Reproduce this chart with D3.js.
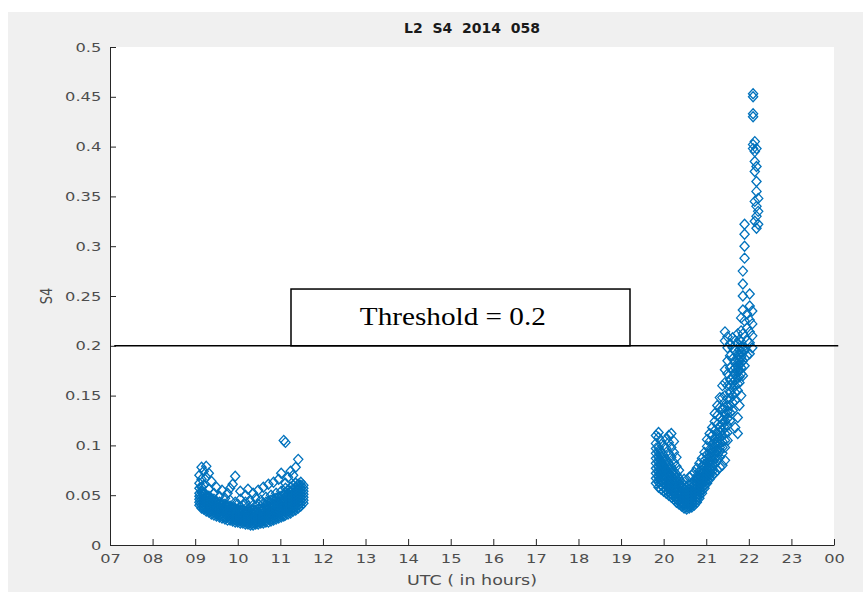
<!DOCTYPE html>
<html>
<head>
<meta charset="utf-8">
<script src="https://cdn.jsdelivr.net/npm/d3@7"></script>
<style>
  html, body { margin: 0; padding: 0; background: #fff; }
  svg { display: block; }
</style>
</head>
<body>
<svg id="chart" width="863" height="594"></svg>
<script>
// L2 S4, 2014 day 058 - scatter of S4 against UTC hour
const chartTitle = 'L2  S4  2014  058';
const hourTicks = [7, 8, 9, 10, 11, 12, 13, 14, 15, 16, 17, 18, 19, 20, 21, 22, 23, 24];
const hourLabels = ['07', '08', '09', '10', '11', '12', '13', '14', '15', '16', '17', '18', '19', '20', '21', '22', '23', '00'];
const s4Ticks = [0, 0.05, 0.1, 0.15, 0.2, 0.25, 0.3, 0.35, 0.4, 0.45, 0.5];
const s4Labels = ['0', '0.05', '0.1', '0.15', '0.2', '0.25', '0.3', '0.35', '0.4', '0.45', '0.5'];
const threshold = 0.2;
const thresholdText = 'Threshold = 0.2';

// morning pass: [UTC hour, S4 samples near that hour]
const morningPass = [
  [9.10, [0.040, 0.043, 0.046, 0.049, 0.052, 0.057, 0.062, 0.070]],
  [9.15, [0.037, 0.040, 0.043, 0.046, 0.049, 0.053, 0.058, 0.066, 0.078]],
  [9.20, [0.036, 0.038, 0.041, 0.044, 0.047, 0.050, 0.053, 0.060, 0.074]],
  [9.26, [0.034, 0.037, 0.039, 0.042, 0.045, 0.048, 0.050, 0.068, 0.079]],
  [9.32, [0.033, 0.035, 0.038, 0.041, 0.044, 0.047, 0.049, 0.056, 0.072]],
  [9.38, [0.031, 0.034, 0.036, 0.039, 0.042, 0.045, 0.047, 0.064]],
  [9.44, [0.030, 0.033, 0.035, 0.038, 0.040, 0.043, 0.046, 0.052]],
  [9.50, [0.029, 0.031, 0.034, 0.037, 0.039, 0.042, 0.044, 0.058]],
  [9.57, [0.028, 0.030, 0.033, 0.036, 0.038, 0.041, 0.043, 0.049]],
  [9.63, [0.027, 0.029, 0.032, 0.035, 0.037, 0.040, 0.042, 0.055]],
  [9.70, [0.026, 0.028, 0.031, 0.034, 0.036, 0.039, 0.041, 0.047]],
  [9.76, [0.025, 0.028, 0.030, 0.033, 0.035, 0.038, 0.040, 0.052]],
  [9.82, [0.025, 0.027, 0.029, 0.032, 0.034, 0.037, 0.039, 0.045, 0.057]],
  [9.88, [0.024, 0.026, 0.028, 0.031, 0.033, 0.036, 0.038, 0.061]],
  [9.94, [0.023, 0.025, 0.028, 0.030, 0.032, 0.035, 0.037, 0.043, 0.069]],
  [10.00, [0.023, 0.025, 0.027, 0.029, 0.031, 0.034, 0.036, 0.041]],
  [10.06, [0.022, 0.024, 0.026, 0.028, 0.031, 0.033, 0.035, 0.046, 0.054]],
  [10.12, [0.022, 0.024, 0.026, 0.028, 0.030, 0.033, 0.035, 0.040]],
  [10.18, [0.021, 0.023, 0.025, 0.028, 0.030, 0.032, 0.034, 0.043, 0.050]],
  [10.24, [0.021, 0.023, 0.025, 0.027, 0.029, 0.032, 0.034, 0.039, 0.056]],
  [10.30, [0.020, 0.022, 0.025, 0.027, 0.029, 0.031, 0.034, 0.044]],
  [10.36, [0.020, 0.022, 0.025, 0.027, 0.030, 0.032, 0.035, 0.040, 0.052]],
  [10.42, [0.021, 0.023, 0.025, 0.028, 0.030, 0.033, 0.035, 0.047]],
  [10.48, [0.021, 0.023, 0.026, 0.028, 0.030, 0.033, 0.036, 0.041, 0.055]],
  [10.54, [0.022, 0.024, 0.026, 0.029, 0.031, 0.034, 0.036, 0.045]],
  [10.60, [0.022, 0.024, 0.027, 0.029, 0.032, 0.035, 0.037, 0.042, 0.058]],
  [10.66, [0.023, 0.025, 0.027, 0.030, 0.032, 0.035, 0.038, 0.043, 0.048]],
  [10.72, [0.023, 0.026, 0.028, 0.031, 0.033, 0.036, 0.039, 0.044, 0.061]],
  [10.78, [0.024, 0.026, 0.029, 0.032, 0.034, 0.037, 0.040, 0.045, 0.050]],
  [10.84, [0.025, 0.027, 0.030, 0.033, 0.035, 0.038, 0.041, 0.046, 0.063]],
  [10.90, [0.026, 0.028, 0.031, 0.034, 0.036, 0.039, 0.042, 0.047, 0.052]],
  [10.96, [0.027, 0.029, 0.032, 0.035, 0.037, 0.040, 0.043, 0.048, 0.066]],
  [11.02, [0.028, 0.030, 0.033, 0.036, 0.039, 0.042, 0.045, 0.049, 0.054, 0.072]],
  [11.08, [0.029, 0.031, 0.034, 0.037, 0.040, 0.043, 0.046, 0.051, 0.105]],
  [11.12, [0.030, 0.033, 0.036, 0.039, 0.042, 0.045, 0.048, 0.052, 0.057, 0.062, 0.103]],
  [11.18, [0.031, 0.034, 0.037, 0.040, 0.043, 0.046, 0.049, 0.052, 0.055, 0.068]],
  [11.24, [0.032, 0.035, 0.038, 0.041, 0.044, 0.047, 0.050, 0.054, 0.058, 0.074]],
  [11.30, [0.034, 0.037, 0.040, 0.043, 0.046, 0.049, 0.052, 0.056, 0.060, 0.070]],
  [11.36, [0.035, 0.038, 0.041, 0.044, 0.047, 0.050, 0.053, 0.057, 0.062, 0.078]],
  [11.42, [0.037, 0.040, 0.043, 0.046, 0.049, 0.052, 0.055, 0.058, 0.061, 0.086]],
  [11.48, [0.039, 0.042, 0.045, 0.048, 0.051, 0.054, 0.057, 0.060, 0.063]],
  [11.54, [0.042, 0.045, 0.048, 0.051, 0.054, 0.057, 0.060]]
];

// evening pass: dip near 20.5 UTC, then the rise through the threshold
const eveningPass = [
  [19.82, [0.062, 0.067, 0.072, 0.077, 0.082, 0.087, 0.092, 0.097, 0.102, 0.110]],
  [19.88, [0.058, 0.063, 0.068, 0.073, 0.078, 0.083, 0.088, 0.093, 0.098, 0.108, 0.113]],
  [19.94, [0.056, 0.060, 0.064, 0.069, 0.074, 0.079, 0.084, 0.089, 0.094, 0.104]],
  [20.00, [0.054, 0.058, 0.062, 0.066, 0.070, 0.075, 0.080, 0.085, 0.090, 0.100]],
  [20.06, [0.052, 0.055, 0.059, 0.063, 0.067, 0.071, 0.076, 0.081, 0.086, 0.097, 0.106]],
  [20.12, [0.050, 0.053, 0.057, 0.060, 0.064, 0.068, 0.072, 0.077, 0.082, 0.092, 0.103, 0.110]],
  [20.18, [0.048, 0.051, 0.055, 0.058, 0.062, 0.065, 0.069, 0.073, 0.078, 0.088, 0.098, 0.112]],
  [20.24, [0.046, 0.049, 0.052, 0.055, 0.059, 0.062, 0.066, 0.070, 0.074, 0.083, 0.093, 0.104]],
  [20.30, [0.043, 0.046, 0.049, 0.052, 0.056, 0.059, 0.063, 0.067, 0.071, 0.079, 0.088]],
  [20.36, [0.041, 0.044, 0.046, 0.049, 0.052, 0.055, 0.059, 0.063, 0.067, 0.075]],
  [20.42, [0.039, 0.041, 0.044, 0.047, 0.050, 0.053, 0.056, 0.059, 0.063]],
  [20.48, [0.037, 0.040, 0.042, 0.045, 0.047, 0.050, 0.053, 0.056, 0.060, 0.066]],
  [20.54, [0.036, 0.038, 0.041, 0.043, 0.046, 0.049, 0.052, 0.055, 0.058]],
  [20.60, [0.037, 0.039, 0.042, 0.044, 0.047, 0.050, 0.053, 0.056, 0.060, 0.068]],
  [20.66, [0.038, 0.040, 0.043, 0.046, 0.049, 0.052, 0.055, 0.058, 0.062, 0.070]],
  [20.72, [0.040, 0.043, 0.046, 0.049, 0.052, 0.055, 0.058, 0.061, 0.065, 0.073]],
  [20.78, [0.043, 0.046, 0.049, 0.052, 0.055, 0.058, 0.062, 0.065, 0.069, 0.077]],
  [20.84, [0.047, 0.050, 0.053, 0.056, 0.060, 0.063, 0.067, 0.070, 0.074, 0.082]],
  [20.90, [0.052, 0.055, 0.058, 0.061, 0.065, 0.068, 0.072, 0.075, 0.079, 0.087]],
  [20.96, [0.057, 0.060, 0.064, 0.067, 0.071, 0.074, 0.078, 0.081, 0.085, 0.093]],
  [21.02, [0.062, 0.065, 0.069, 0.072, 0.076, 0.080, 0.083, 0.087, 0.091, 0.099, 0.106]],
  [21.08, [0.066, 0.070, 0.073, 0.077, 0.080, 0.084, 0.088, 0.092, 0.096, 0.104, 0.112]],
  [21.14, [0.070, 0.074, 0.077, 0.081, 0.085, 0.089, 0.093, 0.097, 0.101, 0.110, 0.118]],
  [21.20, [0.072, 0.081, 0.086, 0.090, 0.094, 0.098, 0.102, 0.106, 0.115, 0.124, 0.132]],
  [21.26, [0.075, 0.085, 0.090, 0.094, 0.099, 0.103, 0.108, 0.112, 0.121, 0.130, 0.140]],
  [21.32, [0.078, 0.088, 0.094, 0.098, 0.103, 0.108, 0.113, 0.118, 0.128, 0.138, 0.148]],
  [21.38, [0.080, 0.092, 0.098, 0.104, 0.110, 0.115, 0.121, 0.126, 0.137, 0.148, 0.160]],
  [21.44, [0.085, 0.098, 0.105, 0.112, 0.118, 0.125, 0.131, 0.138, 0.150, 0.163, 0.176, 0.205, 0.214]],
  [21.50, [0.105, 0.113, 0.120, 0.127, 0.134, 0.140, 0.147, 0.160, 0.172, 0.185, 0.198, 0.209]],
  [21.56, [0.125, 0.133, 0.140, 0.147, 0.153, 0.160, 0.166, 0.178, 0.190, 0.202]],
  [21.62, [0.135, 0.143, 0.150, 0.157, 0.163, 0.169, 0.175, 0.187, 0.198, 0.208]],
  [21.68, [0.118, 0.145, 0.153, 0.160, 0.166, 0.172, 0.178, 0.184, 0.195, 0.205]],
  [21.74, [0.112, 0.128, 0.155, 0.162, 0.168, 0.174, 0.180, 0.186, 0.191, 0.202, 0.212]],
  [21.78, [0.140, 0.163, 0.169, 0.175, 0.181, 0.186, 0.191, 0.196, 0.206]],
  [21.82, [0.150, 0.172, 0.178, 0.183, 0.189, 0.194, 0.199, 0.204, 0.215, 0.228]],
  [21.86, [0.170, 0.185, 0.198, 0.212, 0.236, 0.250, 0.262, 0.275]],
  [21.90, [0.180, 0.195, 0.225, 0.288, 0.300, 0.312, 0.322]],
  [21.96, [0.190, 0.205, 0.218, 0.232]],
  [22.02, [0.192, 0.203, 0.214, 0.226, 0.240, 0.252]],
  [22.08, [0.198, 0.210, 0.222, 0.235]],
  [22.10, [0.398, 0.402, 0.430, 0.433, 0.450, 0.453]],
  [22.14, [0.325, 0.345, 0.375, 0.385, 0.395, 0.405]],
  [22.18, [0.318, 0.330, 0.340, 0.355, 0.365, 0.380, 0.398]],
  [22.22, [0.322, 0.335, 0.348]]
];

const svg = d3.select('#chart');
const axisColor = '#262626';
const labelColor = '#4d4d4d';
const sans = "'DejaVu Sans', sans-serif";
const stretch = 'scale(1.25,1)'; // the figure text is drawn wide

// figure background (matlab grey) and white axes area
svg.append('rect')
  .attr('x', 8).attr('y', 12)
  .attr('width', 855).attr('height', 580)
  .attr('fill', '#f0f0f0');

const x = d3.scaleLinear().domain([7, 24]).range([110, 834]);
const y = d3.scaleLinear().domain([0, 0.5]).range([545, 47]);

svg.append('rect')
  .attr('x', x(7)).attr('y', y(0.5))
  .attr('width', x(24) - x(7)).attr('height', y(0) - y(0.5))
  .attr('fill', '#fff');

// scatter, open diamonds
const toPoints = pass => pass.flatMap(([h, vals]) => vals.map(v => [h, v]));
const samples = toPoints(morningPass).concat(toPoints(eveningPass));
const diamond = 'M0,-5L4.6,0L0,5L-4.6,0Z';

svg.append('g')
  .selectAll('path')
  .data(samples)
  .join('path')
  .attr('d', diamond)
  .attr('transform', d => `translate(${x(d[0])},${y(d[1])})`)
  .attr('fill', 'none')
  .attr('stroke', '#0072BD')
  .attr('stroke-width', 1.3);

// axes, ticks pointing inwards
const xAxis = svg.append('g')
  .attr('transform', `translate(0,${y(0)})`)
  .call(d3.axisBottom(x)
    .tickValues(hourTicks)
    .tickFormat((d, i) => hourLabels[i])
    .tickSizeInner(-6)
    .tickSizeOuter(0)
    .tickPadding(9));

const yAxis = svg.append('g')
  .attr('transform', `translate(${x(7)},0)`)
  .call(d3.axisLeft(y)
    .tickValues(s4Ticks)
    .tickFormat((d, i) => s4Labels[i])
    .tickSizeInner(-6)
    .tickSizeOuter(0)
    .tickPadding(7));

[xAxis, yAxis].forEach(g => {
  g.select('.domain').attr('stroke', axisColor).attr('stroke-width', 1);
  g.selectAll('.tick line').attr('stroke', axisColor);
  g.selectAll('.tick text')
    .attr('fill', labelColor)
    .attr('transform', stretch)
    .style('font-family', sans)
    .style('font-size', '13px');
});

// title and axis labels
svg.append('text')
  .attr('x', (x(7) + x(24)) / 2).attr('y', 33)
  .attr('text-anchor', 'middle')
  .style('font-family', sans).style('font-size', '14px').style('font-weight', 'bold')
  .attr('fill', '#1a1a1a')
  .style('white-space', 'pre')
  .text(chartTitle);

svg.append('g')
  .attr('transform', `translate(${(x(7) + x(24)) / 2},585)`)
  .append('text')
  .attr('transform', stretch)
  .attr('text-anchor', 'middle')
  .style('font-family', sans).style('font-size', '14px')
  .attr('fill', labelColor)
  .text('UTC ( in hours)');

svg.append('text')
  .attr('transform', `translate(52,${(y(0) + y(0.5)) / 2}) rotate(-90) scale(1,1.2)`)
  .attr('text-anchor', 'middle')
  .style('font-family', sans).style('font-size', '13px')
  .attr('fill', labelColor)
  .text('S4');

// threshold annotation: label box sitting on the line
svg.append('rect')
  .attr('x', x(11.25)).attr('y', y(0.257))
  .attr('width', x(19.21) - x(11.25)).attr('height', y(threshold) - y(0.257))
  .attr('fill', '#fff')
  .attr('stroke', '#000')
  .attr('stroke-width', 1.5);

svg.append('text')
  .attr('x', x(15.05)).attr('y', y(0.221))
  .attr('text-anchor', 'middle')
  .attr('textLength', 186)
  .attr('lengthAdjust', 'spacingAndGlyphs')
  .style('font-family', "'Liberation Serif', 'Times New Roman', serif")
  .style('font-size', '26px')
  .attr('fill', '#000')
  .text(thresholdText);

svg.append('line')
  .attr('x1', x(7.1)).attr('x2', x(24.1))
  .attr('y1', y(threshold)).attr('y2', y(threshold))
  .attr('stroke', '#000')
  .attr('stroke-width', 1.5);
</script>
</body>
</html>
